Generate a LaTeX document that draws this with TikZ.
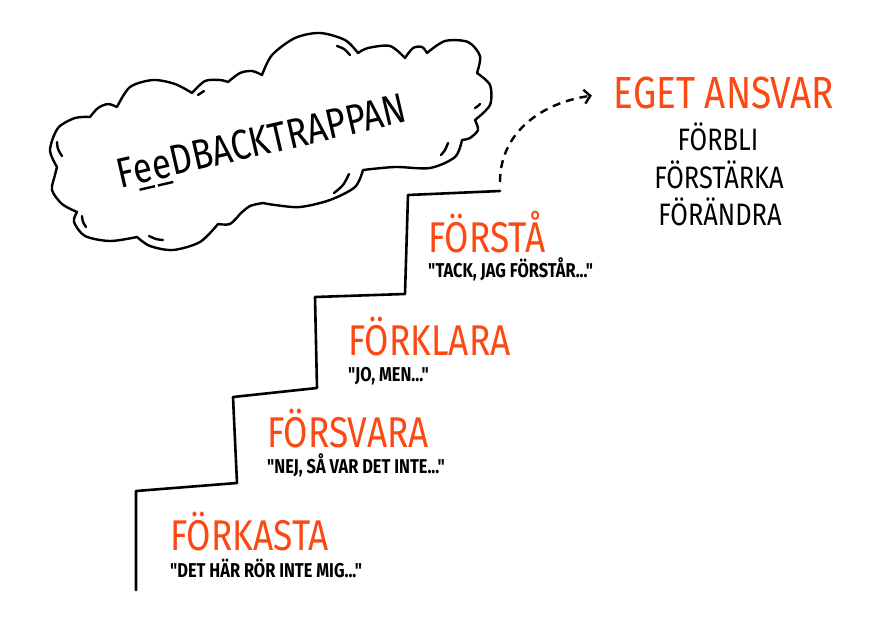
\documentclass[tikz,border=0pt]{standalone}
\usepackage{fontspec}
\setmainfont{Fira Sans}[FakeStretch=0.82]
\newfontfamily\quotefont{Fira Sans}[FakeStretch=0.82]
\usepackage{tikz}
\usetikzlibrary{arrows.meta,positioning}

\definecolor{stairorange}{RGB}{252,72,18}

\newsavebox{\ebox}
\newcommand{\markede}{\sbox{\ebox}{e}\rlap{\hspace{1.5pt}\rule[-7pt]{\dimexpr\wd\ebox-3pt\relax}{2.4pt}}\usebox{\ebox}}

\begin{document}
\begin{tikzpicture}[x=1pt, y=-1pt,
    stairline/.style={line width=2.6pt, line join=round, line cap=round},
    cloudline/.style={line width=2.4pt, line join=round, line cap=round},
    stairtitle/.style={text=stairorange, anchor=base west, inner sep=0pt, font=\fontsize{43}{43}\selectfont},
    stairquote/.style={anchor=base west, inner sep=0pt, font=\quotefont\bfseries\fontsize{20}{20}\selectfont},
    goal/.style={anchor=base, inner sep=0pt, font=\fontsize{31}{31}\selectfont}]
    \useasboundingbox (0,0) rectangle (879,619);

    % Cloud with the title
    \draw[cloudline]
        plot[smooth] coordinates {(57,167) (50,150) (58,128) (75,118) (90,117)}
        -- plot[smooth] coordinates {(90,117) (98,108) (108,104) (117,107)}
        -- plot[smooth] coordinates {(117,107) (130,87) (153,80) (175,84) (192,93)}
        -- plot[smooth] coordinates {(192,93) (205,81) (220,80) (228,82)}
        -- plot[smooth] coordinates {(228,82) (240,73) (252,71) (262,75)}
        -- plot[smooth] coordinates {(262,75) (272,55) (295,38) (320,33) (345,40) (358,53)}
        -- plot[smooth] coordinates {(358,53) (368,48) (390,46) (405,58)}
        -- plot[smooth] coordinates {(405,58) (413,48) (422,47) (427,53)}
        -- plot[smooth] coordinates {(427,53) (445,41) (468,42) (480,56) (477,73)}
        -- plot[smooth] coordinates {(477,73) (490,85) (490,105) (475,120)}
        -- plot[smooth] coordinates {(475,120) (478,130) (470,138) (462,140)}
        -- plot[smooth] coordinates {(462,140) (455,157) (430,168) (395,167) (363,170)}
        -- plot[smooth] coordinates {(363,170) (355,187) (330,200) (300,207) (275,205) (263,203)}
        -- plot[smooth] coordinates {(263,203) (250,206) (240,214)}
        -- plot[smooth] coordinates {(240,214) (230,224) (218,224)}
        -- plot[smooth] coordinates {(218,224) (200,242) (173,250) (150,246) (137,237)}
        -- plot[smooth] coordinates {(137,237) (110,241) (85,236) (74,222) (77,212)}
        -- plot[smooth] coordinates {(77,212) (62,204) (52,190) (55,175) (57,167)}
        -- cycle;
    \draw[cloudline]
        plot[smooth] coordinates {(57,142) (58,149) (62,156)}
        plot[smooth] coordinates {(82,216) (83,222) (86,227)}
        plot[smooth] coordinates {(149,236) (156,239) (163,240)}
        plot[smooth] coordinates {(334,193) (343,185) (349,174)}
        plot[smooth] coordinates {(441,155) (445,150) (448,143)}
        plot[smooth] coordinates {(337,46) (344,49) (350,55)}
        plot[smooth] coordinates {(198,95) (201,93) (204,91)}
        plot[smooth] coordinates {(475,108) (478,106) (480,104)};
    \node[rotate=13, inner sep=0pt, font=\fontsize{42}{42}\selectfont] (title) at (262,144)
        {F\markede\markede DBACKTRAPPAN};

    % Staircase
    \draw[stairline] (136,590) -- (136,491) -- (237,483) -- (233,397) -- (317,388)
        -- (315,297) -- (405,294) -- (408,195) -- (500,191) coordinate (stairtop);

    % Steps, from the bottom up
    \node[stairtitle] (forkasta) at (170,550) {FÖRKASTA};
    \node[stairquote] (quoteforkasta) at (170,577) {"DET HÄR RÖR INTE MIG..."};
    \node[stairtitle] (forsvara) at (267,447) {FÖRSVARA};
    \node[stairquote] (quoteforsvara) at (267,473) {"NEJ, SÅ VAR DET INTE..."};
    \node[stairtitle] (forklara) at (348,355) {FÖRKLARA};
    \node[stairquote] (quoteforklara) at (348,381) {"JO, MEN..."};
    \node[stairtitle] (forsta) at (428,252) {FÖRSTÅ};
    \node[stairquote] (quoteforsta) at (428,277) {"TACK, JAG FÖRSTÅR..."};

    % Own responsibility
    \node[goal, text=stairorange, font=\fontsize{45}{45}\selectfont] (ansvar) at (724,108) {EGET ANSVAR};
    \node[goal] (forbli) at (718,150) {FÖRBLI};
    \node[goal] (forstarka) at (719,188) {FÖRSTÄRKA};
    \node[goal] (forandra) at (720,225) {FÖRÄNDRA};

    \draw[line width=2.4pt, dash pattern=on 8pt off 6pt, -{Straight Barb[length=6pt,width=14pt]},
        shorten <=9pt, shorten >=22pt]
        (stairtop) .. controls +(0,-60) and +(-70,10) .. (ansvar.west);
\end{tikzpicture}
\end{document}
